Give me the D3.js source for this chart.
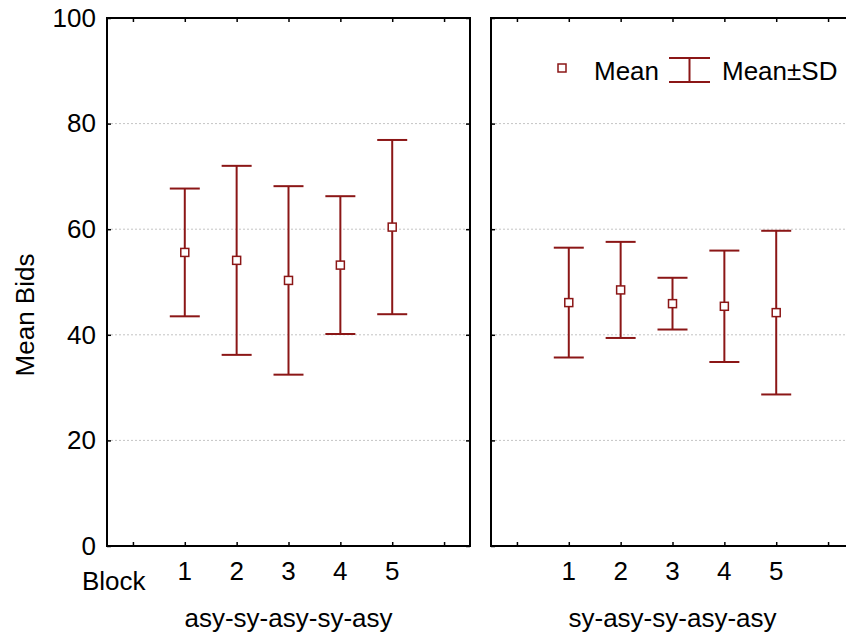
<!DOCTYPE html>
<html>
<head>
<meta charset="utf-8">
<script src="https://cdn.jsdelivr.net/npm/d3@7"></script>
<style>
  body { margin: 0; background: #fff; }
  text { font-family: "Liberation Sans", Arial, sans-serif; fill: #000; }
</style>
</head>
<body>
<div id="chart"></div>
<script>
// data
var blocks = [1, 2, 3, 4, 5];
var groups = ["asy-sy-asy-sy-asy", "sy-asy-sy-asy-asy"];
var meanA = [55.6, 54.1, 50.3, 53.2, 60.4];
var sdA = [12.1, 17.9, 17.85, 13.05, 16.5];
var meanB = [46.1, 48.5, 45.9, 45.4, 44.2];
var sdB = [10.4, 9.1, 4.9, 10.55, 15.5];
var yTicks = [0, 20, 40, 60, 80, 100];
var gridTicks = [20, 40, 60, 80];
var xTicks = [0, 1, 2, 3, 4, 5, 6];

var width = 846, height = 635;
var red = "#8b1616";
var fs = "26px";
var panelW = 363;
var panelLeft = [107, 491];
var plotTop = 18, plotBottom = 546;

var svg = d3.select("#chart").append("svg")
    .attr("width", width).attr("height", height);

var y = d3.scaleLinear().domain([0, 100]).range([plotBottom, plotTop]);

function drawPanel(i, means, sds) {
    var x0 = panelLeft[i];
    var x = d3.scaleLinear().domain([-0.5, 6.5]).range([x0, x0 + panelW]);
    var g = svg.append("g");

    // dotted grid
    g.selectAll(".grid").data(gridTicks).enter().append("line")
        .attr("x1", x0).attr("x2", x0 + panelW)
        .attr("y1", function(d) { return y(d); })
        .attr("y2", function(d) { return y(d); })
        .attr("stroke", "#c4c4c4").attr("stroke-width", 1)
        .attr("stroke-dasharray", "2,2");

    // inward ticks, top and bottom
    var tb = g.append("g").attr("transform", "translate(0," + plotBottom + ")")
        .call(d3.axisTop(x).tickValues(xTicks).tickSize(4).tickFormat(""));
    var tt = g.append("g").attr("transform", "translate(0," + plotTop + ")")
        .call(d3.axisBottom(x).tickValues(xTicks).tickSize(4).tickFormat(""));
    // inward ticks, left and right
    var tl = g.append("g").attr("transform", "translate(" + x0 + ",0)")
        .call(d3.axisRight(y).tickValues(yTicks).tickSize(4).tickFormat(""));
    var tr = g.append("g").attr("transform", "translate(" + (x0 + panelW) + ",0)")
        .call(d3.axisLeft(y).tickValues(yTicks).tickSize(4).tickFormat(""));
    [tb, tt, tl, tr].forEach(function(a) {
        a.select(".domain").remove();
        a.selectAll("line").attr("stroke", "#000").attr("stroke-width", 1.5);
    });

    // frame
    g.append("rect")
        .attr("x", x0).attr("y", plotTop)
        .attr("width", panelW).attr("height", plotBottom - plotTop)
        .attr("fill", "none").attr("stroke", "#000").attr("stroke-width", 2);

    // block numbers
    g.selectAll(".blk").data(blocks).enter().append("text")
        .attr("x", function(d) { return x(d); })
        .attr("y", 580)
        .attr("text-anchor", "middle")
        .style("font-size", fs)
        .text(function(d) { return d; });

    g.append("text")
        .attr("x", x0 + panelW / 2).attr("y", 627)
        .attr("text-anchor", "middle")
        .style("font-size", fs)
        .text(groups[i]);

    // error bars
    var bars = g.selectAll(".bar").data(blocks).enter().append("g");
    bars.append("line")
        .attr("x1", function(d) { return x(d); })
        .attr("x2", function(d) { return x(d); })
        .attr("y1", function(d, j) { return y(means[j] + sds[j]); })
        .attr("y2", function(d, j) { return y(means[j] - sds[j]); })
        .attr("stroke", red).attr("stroke-width", 2);
    [1, -1].forEach(function(s) {
        bars.append("line")
            .attr("x1", function(d) { return x(d) - 15; })
            .attr("x2", function(d) { return x(d) + 15; })
            .attr("y1", function(d, j) { return y(means[j] + s * sds[j]); })
            .attr("y2", function(d, j) { return y(means[j] + s * sds[j]); })
            .attr("stroke", red).attr("stroke-width", 2);
    });
    bars.append("rect")
        .attr("x", function(d) { return x(d) - 4; })
        .attr("y", function(d, j) { return y(means[j]) - 4; })
        .attr("width", 8).attr("height", 8)
        .attr("fill", "#fff").attr("stroke", red).attr("stroke-width", 1.5);
}

drawPanel(0, meanA, sdA);
drawPanel(1, meanB, sdB);

// y axis labels
var ya = svg.append("g").attr("transform", "translate(" + panelLeft[0] + ",0)")
    .call(d3.axisLeft(y).tickValues(yTicks).tickSize(0).tickPadding(11));
ya.select(".domain").remove();
ya.selectAll("text").style("font-size", fs)
    .style("font-family", "Liberation Sans, Arial, sans-serif").attr("fill", "#000");

svg.append("text")
    .attr("transform", "translate(34,315) rotate(-90)")
    .attr("text-anchor", "middle")
    .style("font-size", fs)
    .text("Mean Bids");

svg.append("text")
    .attr("x", 82).attr("y", 590)
    .style("font-size", fs)
    .text("Block");

// legend
var lg = svg.append("g");
lg.append("rect").attr("x", 558).attr("y", 64).attr("width", 8).attr("height", 8)
    .attr("fill", "#fff").attr("stroke", red).attr("stroke-width", 1.5);
lg.append("text").attr("x", 594).attr("y", 80).style("font-size", fs).text("Mean");
lg.append("line").attr("x1", 689.5).attr("x2", 689.5).attr("y1", 58).attr("y2", 82)
    .attr("stroke", red).attr("stroke-width", 2);
[58, 82].forEach(function(v) {
    lg.append("line").attr("x1", 669).attr("x2", 710).attr("y1", v).attr("y2", v)
        .attr("stroke", red).attr("stroke-width", 2);
});
lg.append("text").attr("x", 722).attr("y", 80).style("font-size", fs).text("Mean\u00b1SD");
</script>
</body>
</html>
